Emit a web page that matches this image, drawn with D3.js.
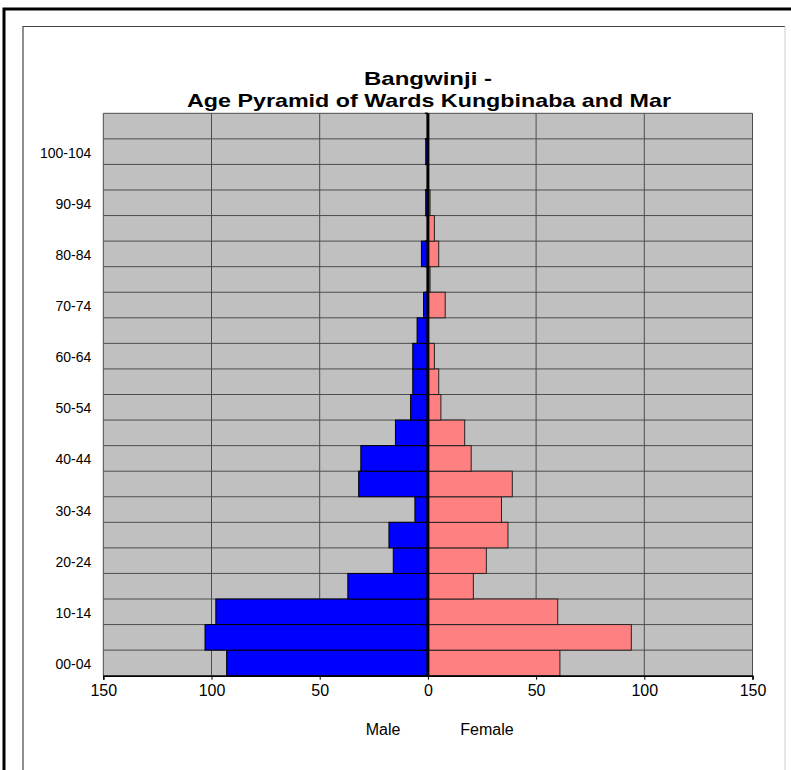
<!DOCTYPE html>
<html>
<head>
<meta charset="utf-8">
<script src="https://cdn.jsdelivr.net/npm/d3@7"></script>
<style>
  body { margin: 0; background: #fff; }
  svg { display: block; }
  text { font-family: "Liberation Sans", Arial, sans-serif; }
</style>
</head>
<body>
<div id="chart"></div>
<script>
// age groups, bottom to top
var ageGroups = ["00-04","05-09","10-14","15-19","20-24","25-29","30-34","35-39","40-44","45-49",
                 "50-54","55-59","60-64","65-69","70-74","75-79","80-84","85-89","90-94","95-99",
                 "100-104","105-109"];
var male   = [93,103,98,37,16,18,6,32,31,15,8,7,7,5,2,0,3,0,1,0,1,0];
var female = [61,94,60,21,27,37,34,39,20,17,6,5,3,0,8,1,5,3,1,0,0,0];
var xTicks = [-150,-100,-50,0,50,100,150];
var labelGroups = ["00-04","10-14","20-24","30-34","40-44","50-54","60-64","70-74","80-84","90-94","100-104"];

var width = 791, height = 770;
var plotLeft = 103.3, plotRight = 752.5, plotTop = 113.3, plotBottom = 675.7;

var svg = d3.select("#chart").append("svg")
    .attr("width", width)
    .attr("height", height);

// outer and inner frames
svg.append("path")
    .attr("d", "M4," + (height + 5) + " L4,9 L" + (width + 5) + ",9")
    .attr("fill", "none").attr("stroke", "#000").attr("stroke-width", 3);
svg.append("path")
    .attr("d", "M23," + (height + 5) + " L23,26.5 L785,26.5")
    .attr("fill", "none").attr("stroke", "#444").attr("stroke-width", 1.2);
svg.append("line")
    .attr("x1", 785).attr("x2", 785).attr("y1", 26.5).attr("y2", height)
    .attr("stroke", "#ccc").attr("stroke-width", 1);

var x = d3.scaleLinear().domain([-150, 150]).range([plotLeft, plotRight]);
var y = d3.scaleBand().domain(ageGroups.slice().reverse()).range([plotTop, plotBottom]).padding(0);

// plot background
svg.append("rect")
    .attr("x", plotLeft).attr("y", plotTop)
    .attr("width", plotRight - plotLeft).attr("height", plotBottom - plotTop)
    .attr("fill", "#c0c0c0");

// vertical gridlines
svg.append("g").selectAll("line")
    .data(xTicks)
    .enter().append("line")
    .attr("x1", function(d) { return x(d); })
    .attr("x2", function(d) { return x(d); })
    .attr("y1", plotTop).attr("y2", plotBottom)
    .attr("stroke", "#4d4d4d").attr("stroke-width", 1);

// horizontal lines at category boundaries
var bounds = d3.range(ageGroups.length + 1).map(function(i) { return plotTop + i * y.bandwidth(); });
svg.append("g").selectAll("line")
    .data(bounds)
    .enter().append("line")
    .attr("x1", plotLeft).attr("x2", plotRight)
    .attr("y1", function(d) { return d; })
    .attr("y2", function(d) { return d; })
    .attr("stroke", "#4d4d4d").attr("stroke-width", 1);

// bars
var data = ageGroups.map(function(g, i) { return { age: g, m: male[i], f: female[i] }; });

svg.append("g").selectAll("rect")
    .data(data)
    .enter().append("rect")
    .attr("x", function(d) { return x(-d.m); })
    .attr("y", function(d) { return y(d.age); })
    .attr("width", function(d) { return x(0) - x(-d.m); })
    .attr("height", y.bandwidth())
    .attr("fill", "#0000ff")
    .attr("stroke", "#000").attr("stroke-width", 1);

svg.append("g").selectAll("rect")
    .data(data)
    .enter().append("rect")
    .attr("x", x(0))
    .attr("y", function(d) { return y(d.age); })
    .attr("width", function(d) { return x(d.f) - x(0); })
    .attr("height", y.bandwidth())
    .attr("fill", "#ff8080")
    .attr("stroke", "#222").attr("stroke-width", 1);

// zero axis with small ticks at boundaries
svg.append("line")
    .attr("x1", x(0)).attr("x2", x(0))
    .attr("y1", plotTop).attr("y2", plotBottom)
    .attr("stroke", "#000").attr("stroke-width", 3);
svg.append("g").selectAll("line")
    .data(bounds)
    .enter().append("line")
    .attr("x1", x(0) - 3).attr("x2", x(0))
    .attr("y1", function(d) { return d; })
    .attr("y2", function(d) { return d; })
    .attr("stroke", "#000").attr("stroke-width", 1.5);

// y labels
var yAxis = svg.append("g")
    .attr("transform", "translate(" + (plotLeft - 12) + ",1.5)")
    .call(d3.axisLeft(y).tickValues(labelGroups).tickSize(0).tickPadding(0));
yAxis.select(".domain").remove();
yAxis.selectAll("text").attr("font-size", 14).attr("fill", "#000")
    .attr("font-family", "'Liberation Sans', Arial, sans-serif");

// x axis
var xAxis = svg.append("g")
    .attr("transform", "translate(0," + plotBottom + ")")
    .call(d3.axisBottom(x).tickValues(xTicks).tickSize(4).tickPadding(5)
        .tickFormat(function(d) { return Math.abs(d); }));
xAxis.select(".domain").attr("stroke", "#000").attr("stroke-width", 1.5);
xAxis.selectAll("line").attr("stroke", "#000");
xAxis.selectAll("text").attr("font-size", 16).attr("fill", "#000")
    .attr("font-family", "'Liberation Sans', Arial, sans-serif");

// series labels
svg.append("text").attr("x", 383).attr("y", 735).attr("text-anchor", "middle")
    .attr("font-size", 16).text("Male");
svg.append("text").attr("x", 487).attr("y", 735).attr("text-anchor", "middle")
    .attr("font-size", 16).text("Female");

// title
svg.append("text").attr("x", 428).attr("y", 85).attr("text-anchor", "middle")
    .attr("font-size", 19).attr("font-weight", "bold")
    .attr("textLength", 128).attr("lengthAdjust", "spacingAndGlyphs")
    .text("Bangwinji -");
svg.append("text").attr("x", 429).attr("y", 107).attr("text-anchor", "middle")
    .attr("font-size", 19).attr("font-weight", "bold")
    .attr("textLength", 484).attr("lengthAdjust", "spacingAndGlyphs")
    .text("Age Pyramid of Wards Kungbinaba and Mar");
</script>
</body>
</html>
